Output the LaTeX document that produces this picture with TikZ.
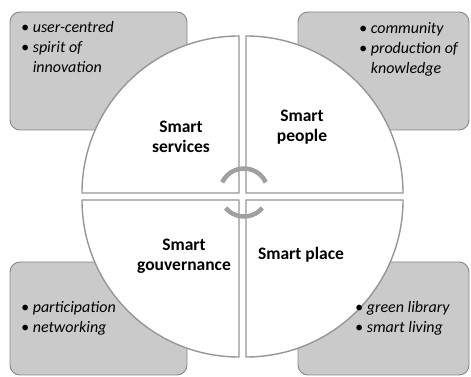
\documentclass[tikz,border=0pt]{standalone}
\usepackage{fontspec}
\setmainfont{Carlito}
\usepackage{tikz}
\usetikzlibrary{calc}
\definecolor{boxgray}{RGB}{202,202,202}
\definecolor{boxline}{RGB}{135,135,135}
\definecolor{sectorline}{RGB}{150,150,150}
\definecolor{turngray}{RGB}{160,160,160}
\newcommand{\bul}{\textbullet\ }
\newcommand{\hang}{\phantom{\textbullet\ }}

\begin{document}
\begin{tikzpicture}[x=1pt,y=1pt,
    notebox/.style={draw=boxline, fill=boxgray, line width=0.9pt, rounded corners=10pt},
    sector/.style={draw=sectorline, fill=white, line width=1.4pt},
    title/.style={align=center, font=\bfseries\fontsize{17.5}{20.5}\selectfont},
    note/.style={anchor=north west, align=left, inner sep=0pt, font=\itshape\fontsize{16}{20}\selectfont}]
          \useasboundingbox (0,0) rectangle (471,377);

          % grey boxes behind the circle
          \draw[notebox] (10,247) rectangle (187,365);
          \draw[notebox] (298,247) rectangle (469,365);
          \draw[notebox] (10,2) rectangle (187,115);
          \draw[notebox] (298,2) rectangle (469,115);

          % four quarters
          \draw[sector] (239,184) -- ++(0,157) arc[start angle=90, end angle=180, radius=157] -- cycle;
          \draw[sector] (246,184) -- ++(157,0) arc[start angle=0, end angle=90, radius=157] -- cycle;
          \draw[sector] (239,177) -- ++(-157,0) arc[start angle=180, end angle=270, radius=157] -- cycle;
          \draw[sector] (246,177) -- ++(0,-157) arc[start angle=270, end angle=360, radius=157] -- cycle;

          % turning arcs in the middle
          \draw[turngray, line width=4.5pt] ($(244,184.5)+(25:24)$) arc[start angle=25, end angle=155, radius=24];
          \draw[turngray, line width=4.5pt] ($(244,184.5)+(-140:24)$) arc[start angle=-140, end angle=-40, radius=24];

          \node[title] (services) at (181,240) {Smart\\services};
          \node[title] (people) at (302,250) {Smart\\people};
          \node[title] (gouvernance) at (184,121) {Smart\\gouvernance};
          \node[title] (place) at (301,122) {Smart place};

          \node[note] (servicesnote) at (21,356) {\bul user-centred\\ \bul spirit of\\ \hang innovation};
          \node[note] (peoplenote) at (359,355) {\bul community\\ \bul production of\\ \hang knowledge};
          \node[note] (gouvernancenote) at (21,76) {\bul participation\\ \bul networking};
          \node[note] (placenote) at (355,76) {\bul green library\\ \bul smart living};
        \end{tikzpicture}
\end{document}
